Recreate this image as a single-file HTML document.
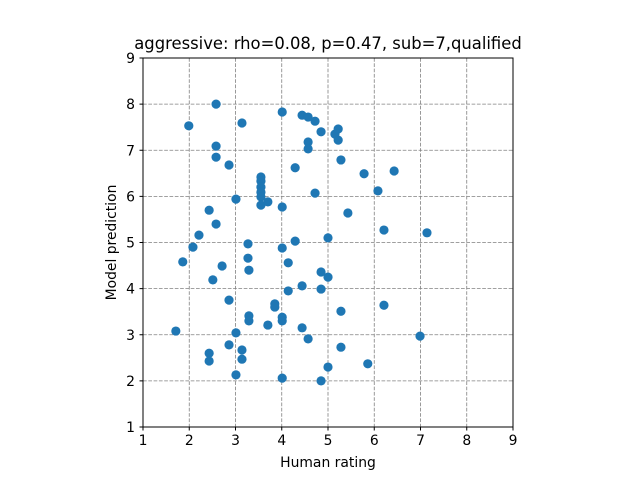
<!DOCTYPE html>
<html><head><meta charset="utf-8"><style>body{margin:0;background:#fff}svg{display:block}text{font-family:"DejaVu Sans","Liberation Sans",sans-serif;fill:#000}</style></head>
<body>
<svg id="chart" width="640" height="480" xmlns="http://www.w3.org/2000/svg">
<text x="328" y="49" font-size="16.4" text-anchor="middle">aggressive: rho=0.08, p=0.47, sub=7,qualified</text>
<g id="grid"></g>
<g id="points"></g>
<rect x="143" y="58" width="370" height="369" fill="none" stroke="#000" stroke-width="1"/>
<g id="ticks"></g>
<text x="328" y="467" font-size="13.9" text-anchor="middle">Human rating</text>
<text transform="translate(116,242.5) rotate(-90)" font-size="13.9" text-anchor="middle">Model prediction</text>
</svg>
<script>
const xTicks=[1,2,3,4,5,6,7,8,9];
const yTicks=[1,2,3,4,5,6,7,8,9];
const humanRating=[1.71,1.86,1.99,2.08,2.21,2.43,2.43,2.43,2.51,2.58,2.58,2.58,2.58,2.71,2.86,2.86,2.86,3.01,3.01,3.01,3.14,3.14,3.14,3.27,3.27,3.29,3.29,3.29,3.55,3.55,3.55,3.55,3.55,3.55,3.70,3.70,3.85,3.85,4.01,4.01,4.01,4.01,4.01,4.01,4.14,4.14,4.29,4.29,4.44,4.44,4.44,4.57,4.57,4.57,4.57,4.72,4.72,4.85,4.85,4.85,4.85,5.00,5.00,5.00,5.15,5.22,5.22,5.28,5.28,5.28,5.43,5.78,5.86,6.08,6.21,6.21,6.43,6.99,7.14];
const modelPrediction=[3.08,4.58,7.53,4.90,5.16,5.70,2.60,2.43,4.19,5.40,8.00,7.09,6.85,4.49,6.68,3.75,2.78,5.94,3.04,2.13,7.59,2.67,2.47,4.97,4.66,4.40,3.41,3.30,6.42,6.33,6.20,6.09,5.99,5.81,5.88,3.21,3.67,3.60,7.83,5.77,4.88,3.38,3.30,2.06,4.56,3.95,6.62,5.03,7.76,4.06,3.15,7.72,7.18,7.03,2.91,7.63,6.07,7.40,4.36,3.99,2.00,5.10,4.25,2.30,7.35,7.46,7.22,6.79,3.51,2.73,5.64,6.49,2.37,6.12,5.27,3.64,6.55,2.97,5.21];
const NS='http://www.w3.org/2000/svg';
const X=v=>143+(v-1)*370/8, Y=v=>427-(v-1)*369/8;
function mk(t,a,p){const e=document.createElementNS(NS,t);for(const k in a)e.setAttribute(k,a[k]);p.appendChild(e);return e;}
const g=document.getElementById('grid'),tk=document.getElementById('ticks'),pts=document.getElementById('points');
xTicks.forEach(v=>{
 const l=mk('line',{x1:X(v),x2:X(v),y1:58,y2:427,stroke:'#808080','stroke-dasharray':'3.7,1.6','stroke-width':0.8},g);
 
 
 const m=mk('line',{x1:X(v),x2:X(v),y1:427,y2:430.5,stroke:'#000'},tk);
 
 
 const t=mk('text',{x:X(v),y:445,'font-size':13.9,'text-anchor':'middle'},tk);t.textContent=v;
 
 
});
yTicks.forEach(v=>{
 const l=mk('line',{x1:143,x2:513,y1:Y(v),y2:Y(v),stroke:'#808080','stroke-dasharray':'3.7,1.6','stroke-width':0.8},g);
 
 
 const m=mk('line',{x1:139.5,x2:143,y1:Y(v),y2:Y(v),stroke:'#000'},tk);
 
 
 const t=mk('text',{x:135,y:Y(v)+5,'font-size':13.9,'text-anchor':'end'},tk);t.textContent=v;
 
 
});
humanRating.forEach((h,i)=>{
 const c=mk('circle',{cx:X(h),cy:Y(modelPrediction[i]),r:4.6,fill:'#1f77b4'},pts);
 
 
});
</script>
</body></html>
